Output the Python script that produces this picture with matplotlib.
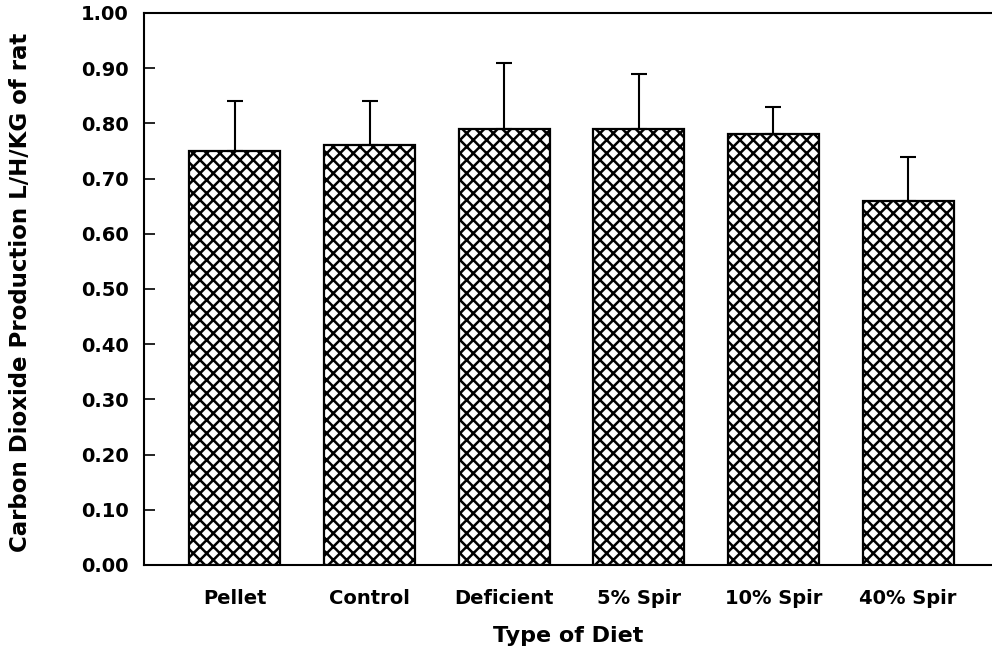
import matplotlib
matplotlib.use("Agg")
import matplotlib.pyplot as plt
import numpy as np

categories = ["Pellet", "Control", "Deficient", "5% Spir", "10% Spir", "40% Spir"]
values = [0.75, 0.76, 0.79, 0.79, 0.78, 0.66]
errors = [0.09, 0.08, 0.12, 0.10, 0.05, 0.08]
yticks = [0.0, 0.1, 0.2, 0.3, 0.4, 0.5, 0.6, 0.7, 0.8, 0.9, 1.0]
ytick_labels = ["0.00", "0.10", "0.20", "0.30", "0.40", "0.50", "0.60", "0.70", "0.80", "0.90", "1.00"]

DPI = 80
K = 100 / DPI  # scale point sizes so that they look as at dpi 100

plt.rcParams['font.family'] = ['DejaVu Sans']
plt.rcParams['hatch.linewidth'] = 1.8 * K

fig = plt.figure(figsize=(992 / DPI, 648 / DPI), dpi=DPI)
ax = fig.add_axes([144/992, 1 - 565/648, 1 - 144/992, (565 - 13)/648])

x = np.arange(len(categories))
ax.bar(x, values, width=0.676, color='white', edgecolor='black', linewidth=1.6 * K, hatch='xx', zorder=2)
ax.errorbar(x, values, yerr=[np.zeros(len(errors)), errors], fmt='none', ecolor='black',
            elinewidth=1.5 * K, capsize=6 * K, capthick=1.5 * K, zorder=3)

ax.set_xlim(-0.676, 5.624)
ax.set_ylim(0, 1.0)
ax.set_yticks(yticks)
ax.set_yticklabels(ytick_labels)
ax.set_xticks(x)
ax.set_xticklabels(categories)

ax.tick_params(axis='y', direction='in', length=8 * K, width=1.2 * K, pad=11 * K, labelsize=14 * K)
ax.tick_params(axis='x', length=0, pad=17 * K, labelsize=14 * K)
for lab in ax.get_xticklabels() + ax.get_yticklabels():
    lab.set_fontweight('bold')

for s in ['top', 'left', 'bottom']:
    ax.spines[s].set_linewidth(1.5 * K)
ax.spines['right'].set_visible(False)

fig.text(568/992, 1 - 642/648, "Type of Diet", fontsize=16 * K, fontweight='bold',
         ha='center', va='baseline')
fig.text(21/992, 1 - 292/648, "Carbon Dioxide Production L/H/KG of rat", fontsize=16.5 * K,
         fontweight='bold', rotation=90, ha='center', va='center')

fig.savefig("out.png", dpi=DPI)
